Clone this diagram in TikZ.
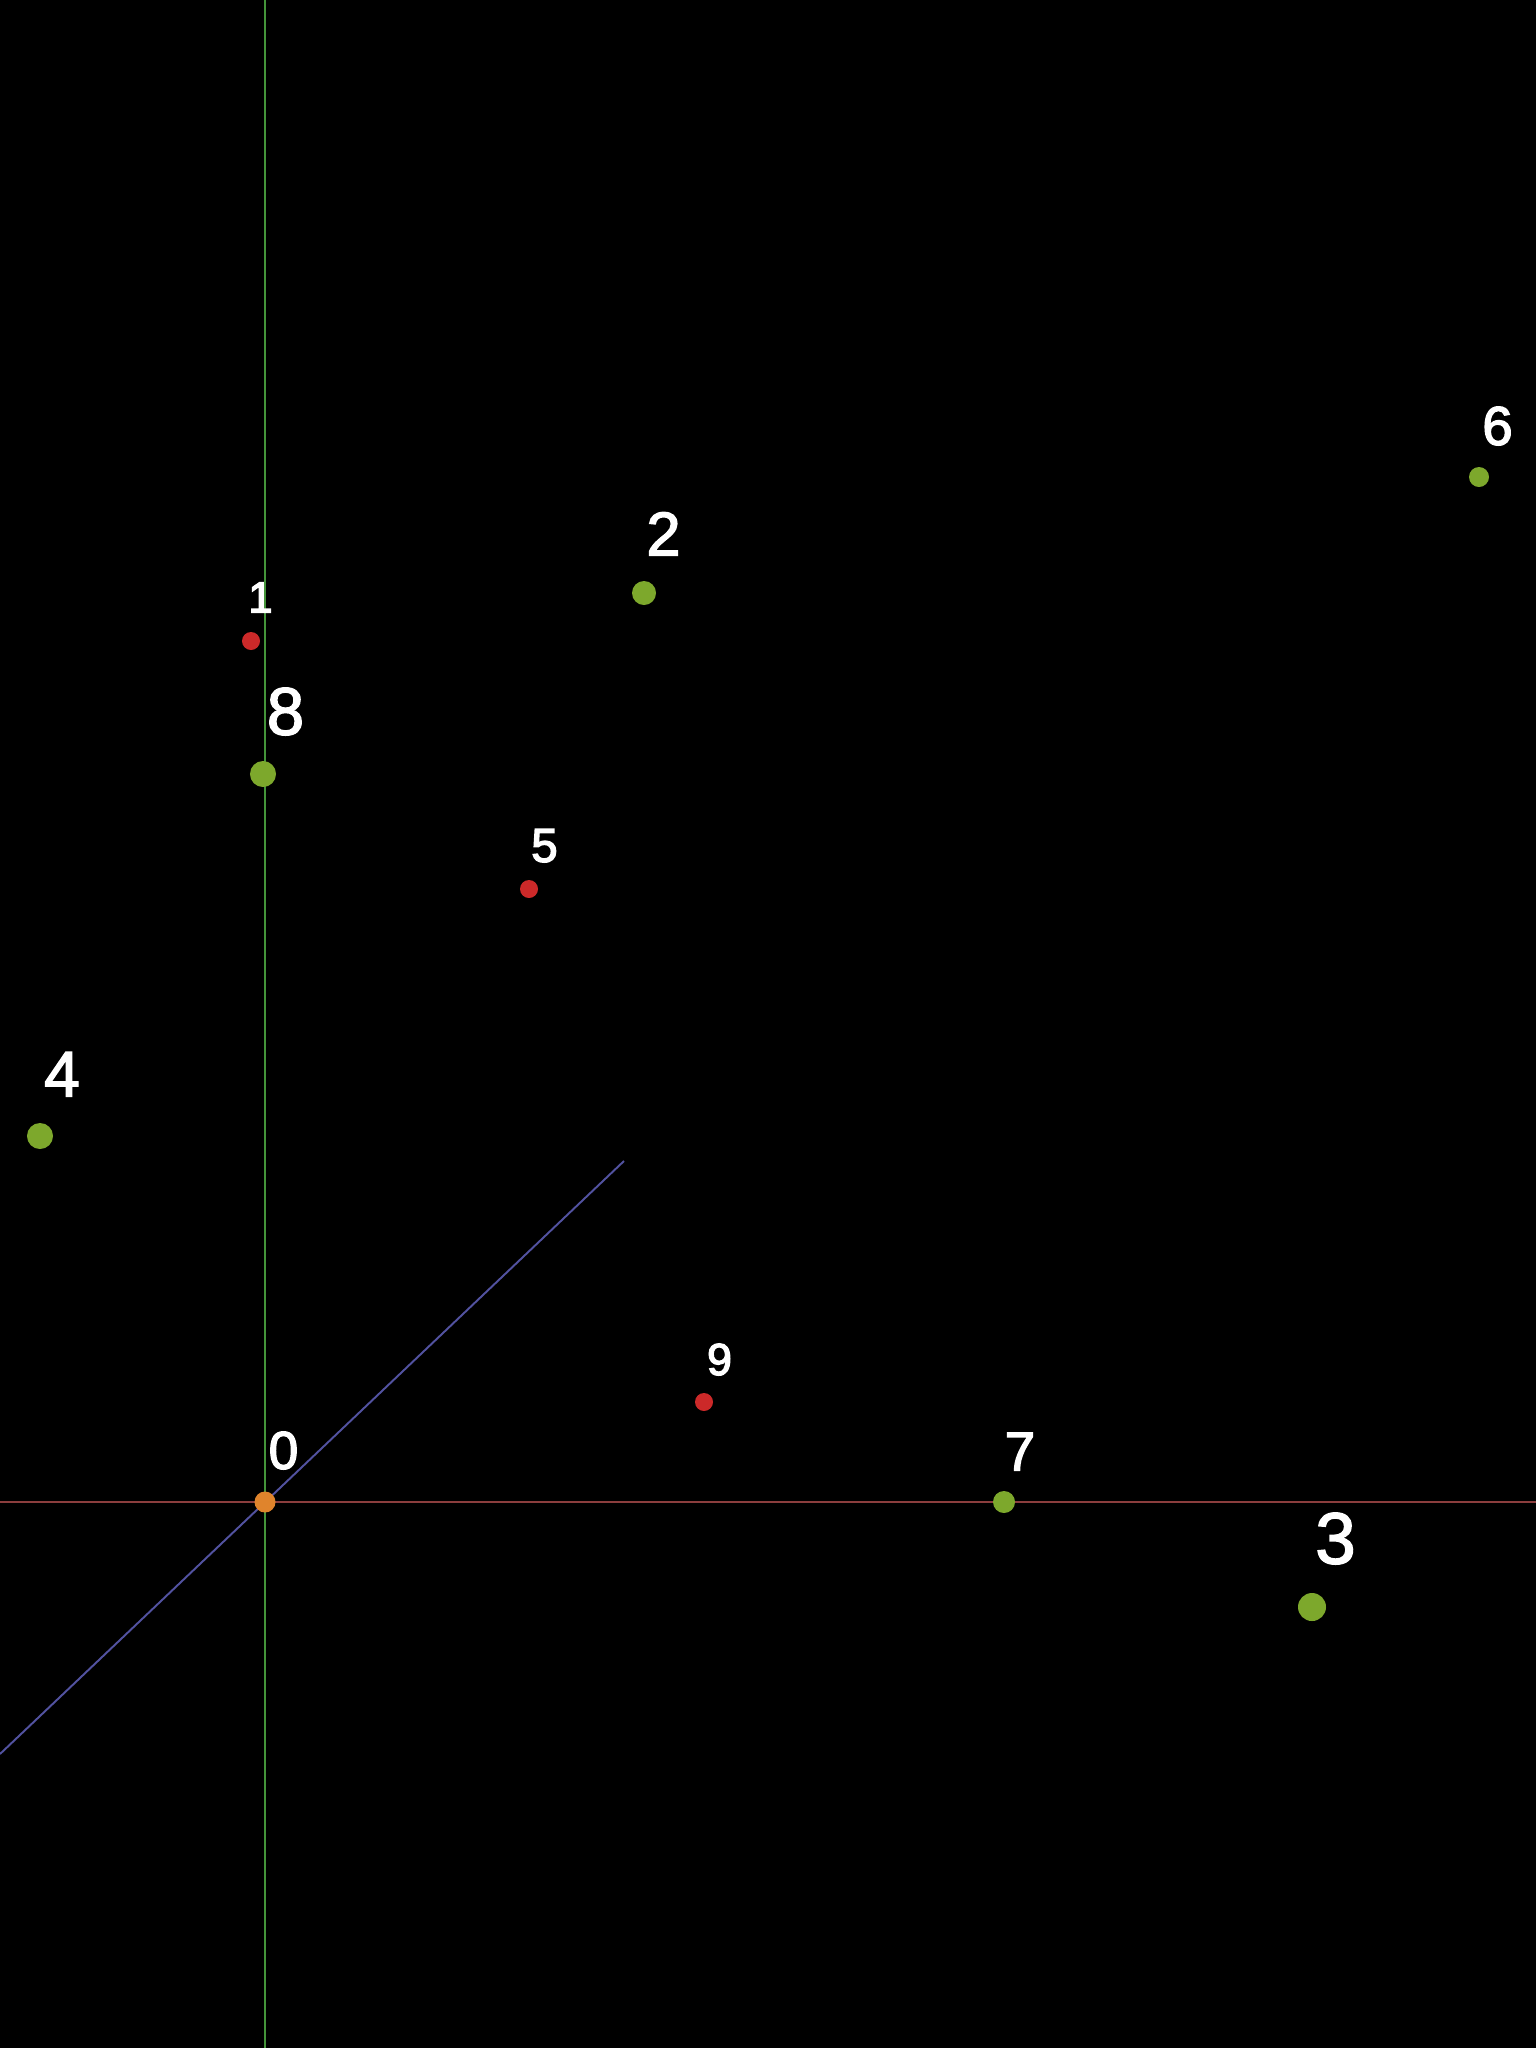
\documentclass[tikz,border=0pt]{standalone}
\usepackage{fontspec}
\setmainfont{Liberation Sans}
\usepackage{tikz}
\usetikzlibrary{positioning}
\definecolor{ptgreen}{RGB}{125,168,44}
\definecolor{ptred}{RGB}{204,41,41}
\definecolor{ptorange}{RGB}{224,132,44}
\definecolor{axgreen}{RGB}{68,148,58}
\definecolor{axred}{RGB}{140,62,62}
\definecolor{axblue}{RGB}{82,82,160}
\newcommand\heavy[1]{\special{pdf:literal direct 2 Tr 0.4 w 1 1 1 RG}#1\special{pdf:literal direct 0 Tr}}
\begin{document}
\begin{tikzpicture}[x=0.01cm, y=-0.01cm]
\tikzstyle{pt}=[circle, inner sep=0pt, draw=none, fill=ptgreen]
\tikzstyle{red}=[pt, fill=ptred]
\tikzstyle{num}=[text=white, inner sep=0pt, anchor=south]
\useasboundingbox (0,0) rectangle (1536,2048);
\fill[black] (-10,-10) rectangle (1546,2058);
% axes
\coordinate (xl) at (0,1502);
\coordinate (xr) at (1536,1502);
\coordinate (yt) at (265,0);
\coordinate (yb) at (265,2048);
\coordinate (zl) at (0,1754);
\coordinate (zr) at (624,1161);
\draw[axred, line width=0.6pt] (xl) -- (xr);
\draw[axblue, line width=0.55pt] (zl) -- (zr);
\draw[axgreen, line width=0.8pt] (yt) -- (yb);
% points
\node[pt, fill=ptorange, minimum size=2.1mm] (p0) at (265,1502) {};
\node[red, minimum size=1.8mm] (p1) at (251,641) {};
\node[pt, minimum size=2.4mm] (p2) at (644,593) {};
\node[pt, minimum size=2.8mm] (p3) at (1312,1607) {};
\node[pt, minimum size=2.6mm] (p4) at (40,1136) {};
\node[red, minimum size=1.8mm] (p5) at (529,889) {};
\node[pt, minimum size=2.0mm] (p6) at (1479,477) {};
\node[pt, minimum size=2.2mm] (p7) at (1004,1502) {};
\node[pt, minimum size=2.6mm] (p8) at (263,774) {};
\node[red, minimum size=1.8mm] (p9) at (704,1402) {};
% labels
\node[num, font=\fontsize{15.1}{16}\selectfont] (l0) at (283.5,1470) {\heavy{0}};
\node[num, font=\fontsize{12.3}{13}\selectfont] (l1) at (260.5,613) {\heavy{1}};
\node[num, font=\fontsize{17.5}{18}\selectfont] (l2) at (663.5,556) {\heavy{2}};
\node[num, font=\fontsize{20.7}{21}\selectfont] (l3) at (1335.5,1565) {\heavy{3}};
\node[num, font=\fontsize{18.3}{19}\selectfont] (l4) at (62,1097) {\heavy{4}};
\node[num, font=\fontsize{13.5}{14}\selectfont] (l5) at (544.5,863) {\heavy{5}};
\node[num, font=\fontsize{15.5}{16}\selectfont] (l6) at (1497.5,446) {\heavy{6}};
\node[num, font=\fontsize{15.5}{16}\selectfont] (l7) at (1020,1471) {\heavy{7}};
\node[num, font=\fontsize{19.1}{20}\selectfont] (l8) at (285.5,736) {\heavy{8}};
\node[num, font=\fontsize{12.7}{13}\selectfont] (l9) at (719.5,1376) {\heavy{9}};
\end{tikzpicture}
\end{document}
